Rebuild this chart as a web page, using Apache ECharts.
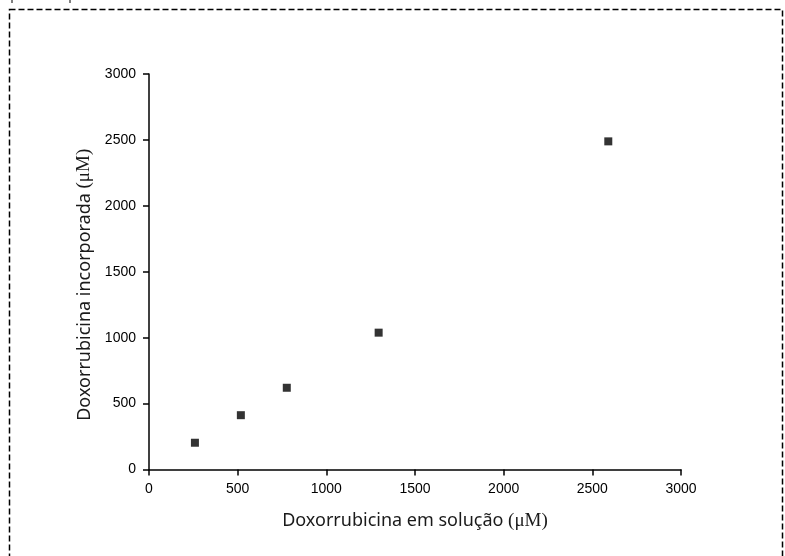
<!DOCTYPE html>
<html><head><meta charset="utf-8">
<script src="https://cdn.jsdelivr.net/npm/echarts@6/dist/echarts.min.js"></script>
<style>html,body{margin:0;padding:0;background:#fff}#c{width:785px;height:556px}</style>
</head><body><div id="c"></div>
<script>
const xValues = [259, 518, 777, 1295, 2590];
const yValues = [203, 412, 620, 1038, 2489];
const xTicks = [0, 500, 1000, 1500, 2000, 2500, 3000];
const yTicks = [0, 500, 1000, 1500, 2000, 2500, 3000];
const xName = 'Doxorrubicina em solução ';
const yName = 'Doxorrubicina incorporada ';

const chart = echarts.init(document.getElementById('c'));
const axisCommon = {
  min: 0, max: 3000, interval: 500,
  axisLine: {show: true, lineStyle: {color: '#000', width: 1.5}},
  axisTick: {show: true, length: 6, lineStyle: {color: '#000', width: 1.5}},
  splitLine: {show: false},
  axisLabel: {color: '#000', fontFamily: 'Liberation Sans', fontSize: 14}
};
const nameRich = {
  a: {fontFamily: 'Noto Sans', fontSize: 18, color: '#1a1a1a'},
  m: {fontFamily: 'Liberation Serif', fontSize: 19, color: '#1a1a1a'}
};
chart.setOption({
  animation: false,
  grid: {left: 149, right: 104, top: 74, bottom: 86.5},
  xAxis: Object.assign({}, axisCommon, {
    type: 'value',
    name: '{a|' + xName + '}{m|(μM)}',
    nameLocation: 'middle', nameGap: 42,
    nameTextStyle: {rich: nameRich},
    axisLabel: Object.assign({}, axisCommon.axisLabel, {margin: 13,
      formatter: v => xTicks.includes(v) ? String(v) : ''})
  }),
  yAxis: Object.assign({}, axisCommon, {
    type: 'value',
    name: '{a|' + yName + '}{m|(μM)}',
    nameLocation: 'middle', nameGap: 54,
    nameTextStyle: {rich: nameRich, padding: [0, 26, 0, 0]},
    axisLabel: Object.assign({}, axisCommon.axisLabel, {margin: 13,
      formatter: v => yTicks.includes(v) ? String(v) : ''})
  }),
  series: [{
    type: 'scatter',
    symbol: 'rect', symbolSize: 8,
    itemStyle: {color: '#000'},
    data: xValues.map((x, i) => [x, yValues[i]])
  }],
  graphic: [
    {type: 'rect', shape: {x: 9.5, y: 9.5, width: 773, height: 600},
      style: {fill: null, stroke: '#000', lineWidth: 1.5, lineDash: [6, 3]}},
    {type: 'line', shape: {x1: 12, y1: 0, x2: 12, y2: 3}, style: {stroke: '#000', lineWidth: 1}},
    {type: 'line', shape: {x1: 70, y1: 0, x2: 70, y2: 3}, style: {stroke: '#000', lineWidth: 1}}
  ]
});
</script></body></html>
